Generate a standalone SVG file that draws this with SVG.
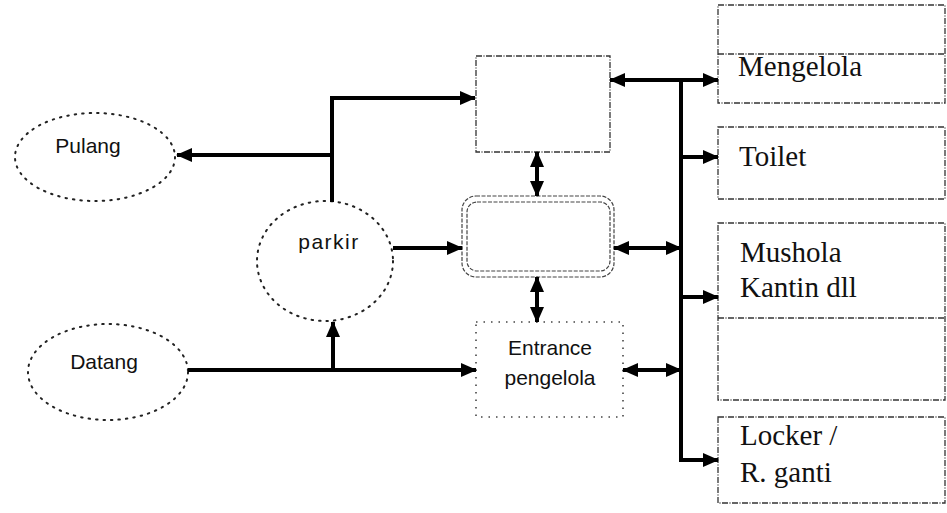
<svg xmlns="http://www.w3.org/2000/svg" width="947" height="513" viewBox="0 0 947 513">
<style>
.bg{fill:#fff}
.ell{fill:none;stroke:#222;stroke-width:2;stroke-dasharray:1.5 6;stroke-linecap:round}
.box{fill:none;stroke:#333;stroke-width:1.3;stroke-dasharray:6 1.5 1 1.5}
.dot{fill:none;stroke:#444;stroke-width:1.6;stroke-dasharray:1.5 6}
.dbl{fill:none;stroke:#444;stroke-width:1.2;stroke-dasharray:4 1.5}
.conn{fill:none;stroke:#000;stroke-width:4}
.sans{font-family:"Liberation Sans",Arial,sans-serif;font-size:21px;fill:#111}
.serif{font-family:"Liberation Serif","Times New Roman","DejaVu Serif",serif;font-size:29px;fill:#111}
</style>
<defs>
<marker id="ah" markerUnits="userSpaceOnUse" markerWidth="16" markerHeight="14" refX="15" refY="7" orient="auto-start-reverse">
<path d="M0,0 L16,7 L0,14 z" fill="#000"/>
</marker>
</defs>
<rect class="bg" width="947" height="513"/>
<g id="pulang">
<ellipse class="ell" cx="95" cy="157" rx="80" ry="44"/>
<text class="sans" x="88" y="153" text-anchor="middle">Pulang</text>
</g>
<g id="datang">
<ellipse class="ell" cx="108" cy="372" rx="80" ry="48"/>
<text class="sans" x="104" y="369" text-anchor="middle">Datang</text>
</g>
<g id="parkir">
<ellipse class="ell" cx="325" cy="261" rx="68" ry="60"/>
<text class="sans" x="329" y="249" text-anchor="middle" letter-spacing="1.5">parkir</text>
</g>
<g id="box-top">
<rect class="box" x="476" y="56" width="134" height="96"/>
</g>
<g id="box-double">
<rect class="dbl" x="462" y="196" width="152" height="81" rx="14"/>
<rect class="dbl" x="467" y="202" width="143" height="69" rx="10"/>
</g>
<g id="entrance">
<rect class="dot" x="476" y="322" width="147" height="95"/>
<text class="sans" x="550" y="355" text-anchor="middle">Entrance</text>
<text class="sans" x="550" y="385" text-anchor="middle">pengelola</text>
</g>
<g id="mengelola">
<rect class="box" x="718" y="5" width="227" height="98"/>
<line class="box" x1="718" y1="54" x2="945" y2="54"/>
<text class="serif" x="738" y="76">Mengelola</text>
</g>
<g id="toilet">
<rect class="box" x="718" y="127" width="227" height="72"/>
<text class="serif" x="739" y="166">Toilet</text>
</g>
<g id="mushola">
<rect class="box" x="718" y="223" width="227" height="177"/>
<line class="box" x1="718" y1="318" x2="945" y2="318"/>
<text class="serif" x="740" y="262">Mushola</text>
<text class="serif" x="740" y="297">Kantin dll</text>
</g>
<g id="locker">
<rect class="box" x="718" y="417" width="227" height="86"/>
<text class="serif" x="740" y="445">Locker /</text>
<text class="serif" x="740" y="482">R. ganti</text>
</g>
<g id="connectors">
<path class="conn" d="M188,370 H476" marker-end="url(#ah)"/>
<path class="conn" d="M333,370 V322" marker-end="url(#ah)"/>
<path class="conn" d="M393,248 H462" marker-end="url(#ah)"/>
<path class="conn" d="M332,202 V98 H475" marker-end="url(#ah)"/>
<path class="conn" d="M332,155 H177" marker-end="url(#ah)"/>
<path class="conn" d="M537,152 V196" marker-start="url(#ah)" marker-end="url(#ah)"/>
<path class="conn" d="M537,277 V322" marker-start="url(#ah)" marker-end="url(#ah)"/>
<path class="conn" d="M610,80 H718" marker-start="url(#ah)" marker-end="url(#ah)"/>
<path class="conn" d="M681,80 V460 H718" marker-end="url(#ah)"/>
<path class="conn" d="M681,157 H718" marker-end="url(#ah)"/>
<path class="conn" d="M681,297 H718" marker-end="url(#ah)"/>
<path class="conn" d="M614,248 H681" marker-start="url(#ah)" marker-end="url(#ah)"/>
<path class="conn" d="M623,370 H681" marker-start="url(#ah)" marker-end="url(#ah)"/>
</g>
</svg>
